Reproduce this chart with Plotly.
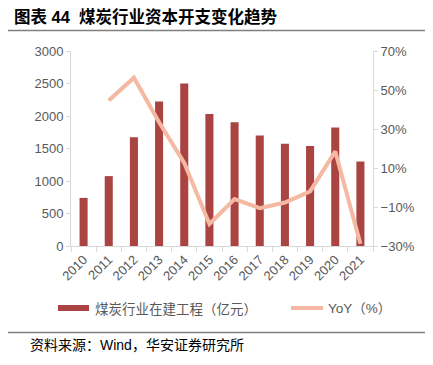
import plotly.graph_objects as go

years = ["2010", "2011", "2012", "2013", "2014", "2015", "2016", "2017", "2018", "2019", "2020", "2021"]
capex = [740, 1075, 1675, 2225, 2500, 2030, 1905, 1700, 1575, 1540, 1825, 1300]
yoy = [None, 44.6, 56.3, 33.5, 12.6, -18.7, -5.9, -10.6, -7.7, -2.0, 18.5, -28.8]

bar_color = "#a94442"
line_color = "#f5b8a2"
gray = "#595959"
axis_gray = "#d9d9d9"
font_fam = "Liberation Sans, Arial, Noto Sans CJK SC"

OFF = 8  # page body margin
W, H = 433 - OFF, 365 - OFF
L, R, T, B = 71 - OFF, 373 - OFF, 51 - OFF, 246 - OFF

def px(x):
    return (x - OFF - L) / (R - L)

def py(y):
    return (B - (y - OFF)) / (B - T)

fig = go.Figure()
fig.add_trace(go.Bar(x=years, y=capex, marker=dict(color=bar_color, line=dict(width=0)),
                     width=0.32, name="煤炭行业在建工程（亿元）", showlegend=False))
fig.add_trace(go.Scatter(x=years, y=yoy, yaxis="y2", mode="lines",
                         line=dict(color=line_color, width=4), name="YoY（%）",
                         showlegend=False, connectgaps=False))

fig.update_layout(
    width=W, height=H,
    margin=dict(l=L, r=W - R, t=T, b=H - B, autoexpand=False),
    plot_bgcolor="white", paper_bgcolor="white",
    font=dict(family=font_fam, size=13, color=gray),
    xaxis=dict(type="category", tickangle=-45, showline=True, linecolor=axis_gray, linewidth=1,
               ticks="outside", tickson="boundaries", ticklen=5, tickcolor=axis_gray,
               showgrid=False, tickfont=dict(size=13, color=gray), automargin=False),
    yaxis=dict(range=[0, 3000], dtick=500, showline=True, linecolor=axis_gray, linewidth=1,
               ticks="outside", ticklen=4, tickcolor=axis_gray, showgrid=False, zeroline=False,
               tickfont=dict(size=13, color=gray), automargin=False),
    yaxis2=dict(range=[-30, 70], tick0=-30, dtick=20, overlaying="y", side="right", showline=True,
                linecolor=axis_gray, linewidth=1, ticks="outside", ticklen=4, tickcolor=axis_gray,
                showgrid=False, zeroline=False, ticksuffix="%", tickfont=dict(size=13, color=gray),
                automargin=False),
    bargap=0.68,
)

shapes = [
    dict(type="line", xref="paper", yref="paper", x0=px(0), x1=px(428), y0=py(30.5), y1=py(30.5),
         line=dict(color="#7f7f7f", width=1.5)),
    dict(type="line", xref="paper", yref="paper", x0=px(0), x1=px(428), y0=py(332.5), y1=py(332.5),
         line=dict(color="#7f7f7f", width=1.5)),
    dict(type="rect", xref="paper", yref="paper", x0=px(58), x1=px(89), y0=py(305), y1=py(311),
         fillcolor=bar_color, line=dict(width=0)),
    dict(type="line", xref="paper", yref="paper", x0=px(291), x1=px(323), y0=py(308), y1=py(308),
         line=dict(color=line_color, width=4)),
]
fig.update_layout(shapes=shapes)

ann = [
    dict(text="<b>图表 44  煤炭行业资本开支变化趋势</b>", x=px(12), y=py(17), xanchor="left", yanchor="middle",
         font=dict(size=16.5, color="black", family="Liberation Sans, Noto Sans CJK SC")),
    dict(text="煤炭行业在建工程（亿元）", x=px(93), y=py(308), xanchor="left", yanchor="middle",
         font=dict(size=13.5, color=gray, family="Noto Sans CJK SC")),
    dict(text="YoY（%）", x=px(326), y=py(308), xanchor="left", yanchor="middle",
         font=dict(size=13.5, color=gray, family="Liberation Sans, Noto Sans CJK SC")),
    dict(text="资料来源：Wind，华安证券研究所", x=px(28), y=py(345), xanchor="left", yanchor="middle",
         font=dict(size=14, color="black", family="Liberation Sans, Noto Sans CJK SC")),
]
for a in ann:
    a.update(xref="paper", yref="paper", showarrow=False)
fig.update_layout(annotations=ann)

fig.write_html("out.html")
